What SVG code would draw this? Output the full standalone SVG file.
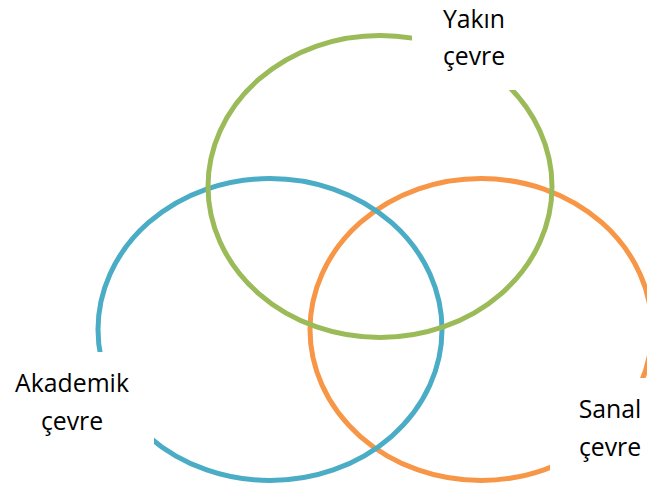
<svg xmlns="http://www.w3.org/2000/svg" width="647" height="491" viewBox="0 0 647 491">
<style>
.c{fill:none;stroke-width:5}
.bg{fill:#ffffff}
.t{font-family:"Open Sans","Liberation Sans",sans-serif;font-size:24.8px;fill:#000000;text-anchor:middle}
</style>
<rect width="647" height="491" fill="#ffffff"/>
<g id="sanal">
<ellipse class="c" cx="481" cy="329.5" rx="171" ry="151" stroke="#F79646"/>
</g>
<g id="akademik">
<ellipse class="c" cx="270" cy="329.5" rx="172" ry="151" stroke="#4BACC6"/>
</g>
<g id="yakin">
<ellipse class="c" cx="380" cy="186.5" rx="172" ry="151" stroke="#9BBB59"/>
</g>
<g id="labels">
<g id="label-yakin">
<rect class="bg" x="412" y="0" width="110" height="90"/>
<text class="t" x="474" y="28">Yakın</text>
<text class="t" x="474" y="65">çevre</text>
</g>
<g id="label-akademik">
<rect class="bg" x="0" y="352" width="154" height="139"/>
<text class="t" x="72" y="392">Akademik</text>
<text class="t" x="72" y="430">çevre</text>
</g>
<g id="label-sanal">
<rect class="bg" x="550" y="378" width="97" height="113"/>
<text class="t" x="610" y="418">Sanal</text>
<text class="t" x="610" y="456">çevre</text>
</g>
</g>
<g id="connectors"/>
</svg>
